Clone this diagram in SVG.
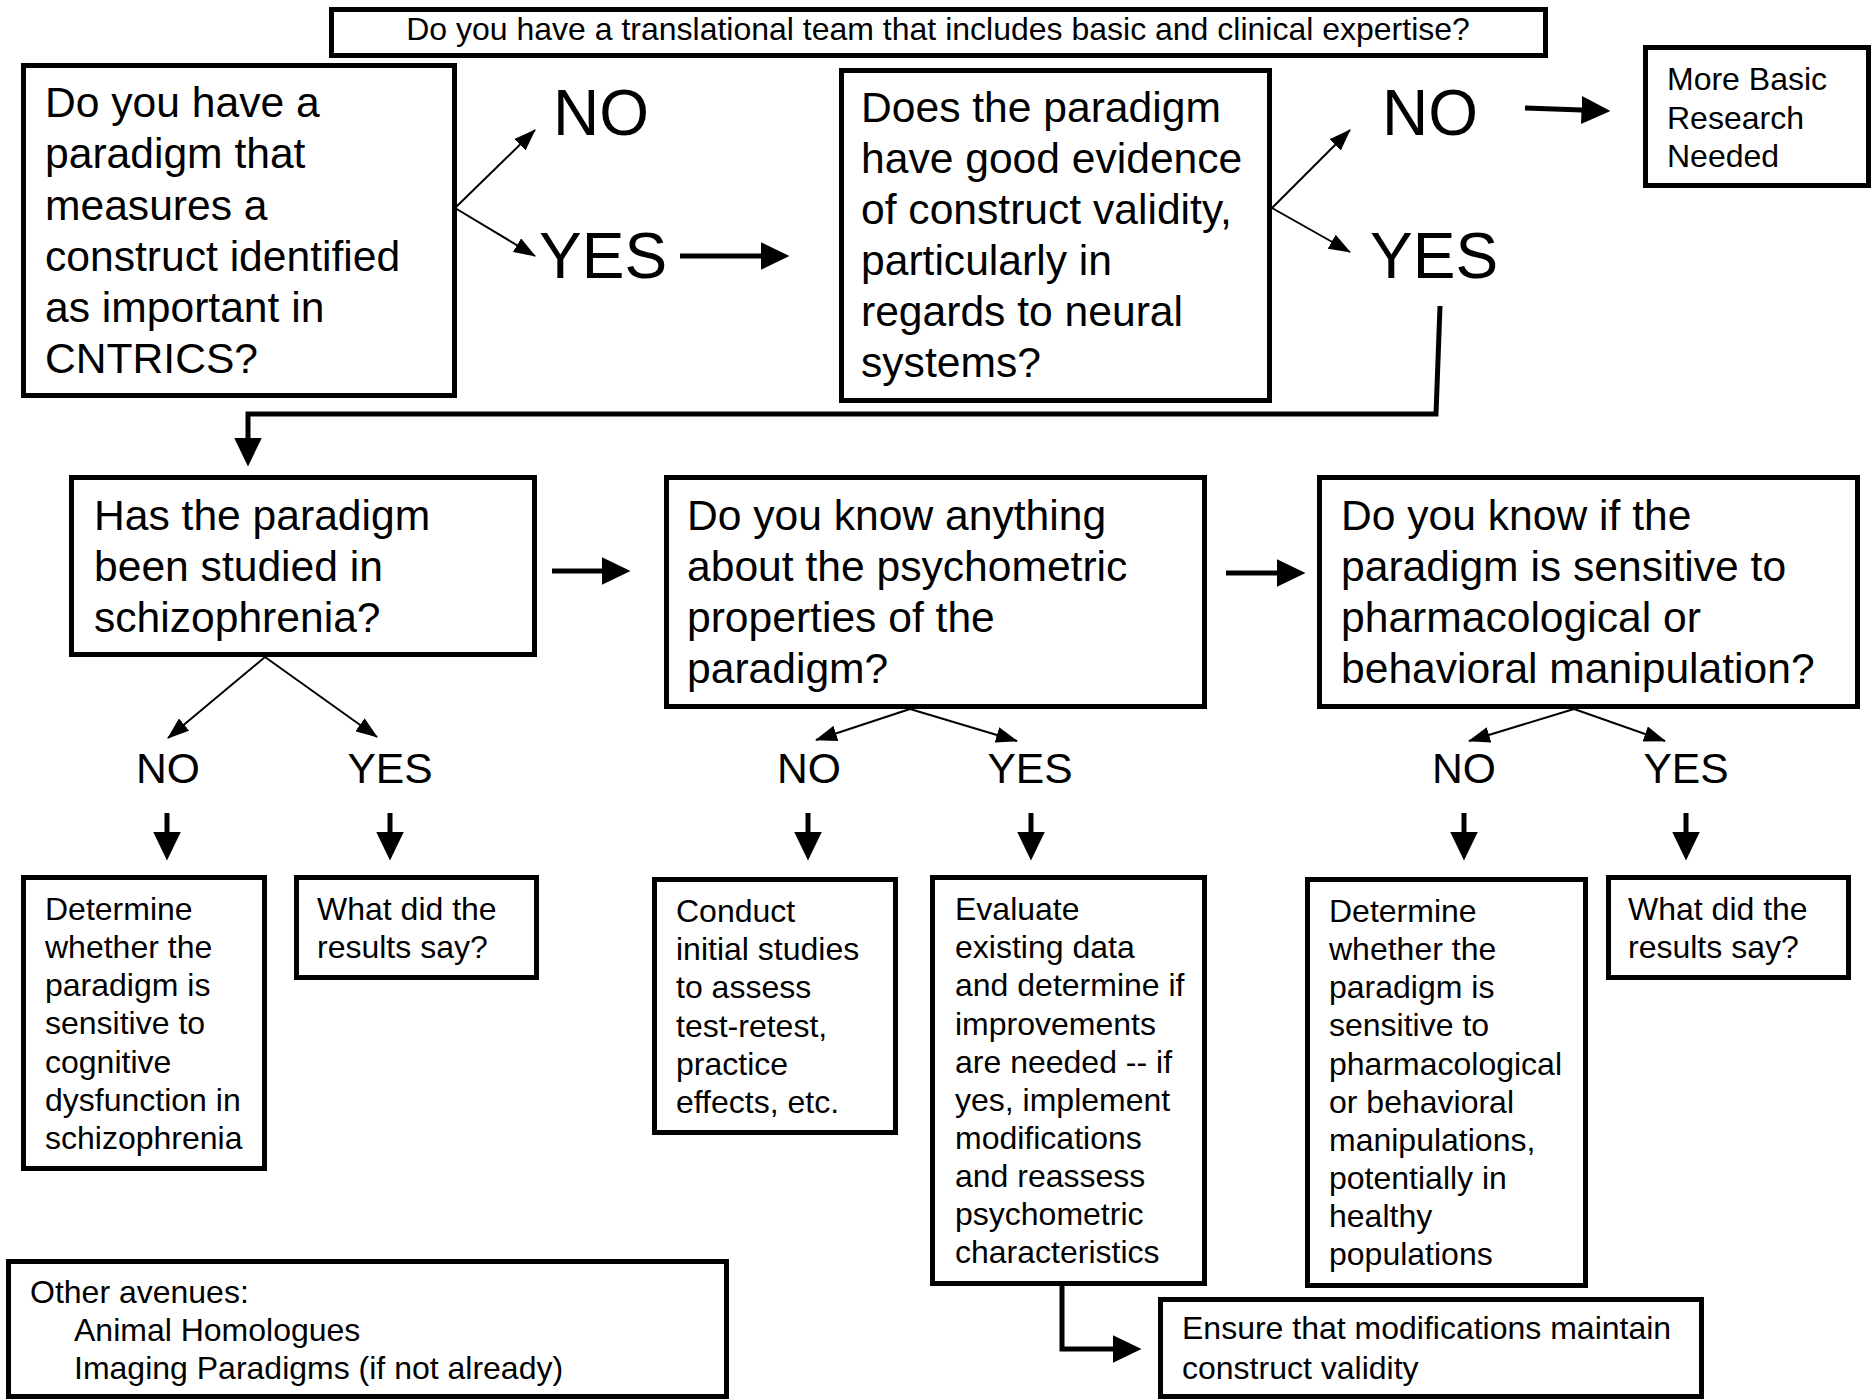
<svg xmlns="http://www.w3.org/2000/svg" width="1871" height="1399" viewBox="0 0 1871 1399">
<defs>
<style>
.box{fill:#fff;stroke:#000;stroke-width:5}
.t{font-family:"Liberation Sans",Arial,sans-serif;fill:#000}
.big{font-size:42.6px}
.sm{font-size:32px}
.huge{font-size:64px}
.thin{fill:none;stroke:#000;stroke-width:2}
.thick{fill:none;stroke:#000;stroke-width:5}
</style>
<marker id="ah" markerUnits="userSpaceOnUse" markerWidth="22" markerHeight="16" refX="21" refY="8" orient="auto" viewBox="0 0 22 16">
<path d="M0,0 L22,8 L0,16 z" fill="#000"/>
</marker>
<marker id="ahb" markerUnits="userSpaceOnUse" markerWidth="29" markerHeight="28" refX="0.5" refY="14" orient="auto" viewBox="0 0 29 28">
<path d="M0,0 L29,14 L0,28 z" fill="#000"/>
</marker>
</defs>
<rect width="1871" height="1399" fill="#fff"/>

<g id="team">
<rect class="box" x="331.5" y="9.5" width="1214" height="46"/>
<text class="t sm" x="938" y="40" text-anchor="middle">Do you have a translational team that includes basic and clinical expertise?</text>
</g>

<g id="q1">
<rect class="box" x="23.5" y="65.5" width="431" height="330"/>
<text class="t big"><tspan x="45" y="117">Do you have a</tspan><tspan x="45" y="168">paradigm that</tspan><tspan x="45" y="219.5">measures a</tspan><tspan x="45" y="271">construct identified</tspan><tspan x="45" y="322">as important in</tspan><tspan x="45" y="373">CNTRICS?</tspan></text>
</g>

<g id="q1-no"><text class="t huge" x="553" y="135">NO</text></g>
<g id="q1-yes"><text class="t huge" x="539" y="278">YES</text></g>

<g id="q2">
<rect class="box" x="841.5" y="70.5" width="428" height="330"/>
<text class="t big"><tspan x="861" y="122">Does the paradigm</tspan><tspan x="861" y="173">have good evidence</tspan><tspan x="861" y="224">of construct validity,</tspan><tspan x="861" y="275">particularly in</tspan><tspan x="861" y="326">regards to neural</tspan><tspan x="861" y="377">systems?</tspan></text>
</g>

<g id="q2-no"><text class="t huge" x="1382" y="135">NO</text></g>
<g id="q2-yes"><text class="t huge" x="1370" y="278">YES</text></g>

<g id="more-basic">
<rect class="box" x="1645.5" y="47.5" width="223" height="138"/>
<text class="t sm"><tspan x="1667" y="90">More Basic</tspan><tspan x="1667" y="129">Research</tspan><tspan x="1667" y="167">Needed</tspan></text>
</g>

<g id="q3">
<rect class="box" x="71.5" y="477.5" width="463" height="177"/>
<text class="t big"><tspan x="94" y="530">Has the paradigm</tspan><tspan x="94" y="581">been studied in</tspan><tspan x="94" y="632">schizophrenia?</tspan></text>
</g>

<g id="q4">
<rect class="box" x="666.5" y="477.5" width="538" height="229"/>
<text class="t big"><tspan x="687" y="530">Do you know anything</tspan><tspan x="687" y="581">about the psychometric</tspan><tspan x="687" y="632">properties of the</tspan><tspan x="687" y="683">paradigm?</tspan></text>
</g>

<g id="q5">
<rect class="box" x="1319.5" y="477.5" width="538" height="229"/>
<text class="t big"><tspan x="1341" y="530">Do you know if the</tspan><tspan x="1341" y="581">paradigm is sensitive to</tspan><tspan x="1341" y="632">pharmacological or</tspan><tspan x="1341" y="683">behavioral manipulation?</tspan></text>
</g>

<g id="q3-no"><text class="t big" x="168" y="783" text-anchor="middle">NO</text></g>
<g id="q3-yes"><text class="t big" x="390" y="783" text-anchor="middle">YES</text></g>
<g id="q4-no"><text class="t big" x="809" y="783" text-anchor="middle">NO</text></g>
<g id="q4-yes"><text class="t big" x="1030" y="783" text-anchor="middle">YES</text></g>
<g id="q5-no"><text class="t big" x="1464" y="783" text-anchor="middle">NO</text></g>
<g id="q5-yes"><text class="t big" x="1686" y="783" text-anchor="middle">YES</text></g>

<g id="determine-cog">
<rect class="box" x="23.5" y="877.5" width="241" height="291"/>
<text class="t sm"><tspan x="45" y="920">Determine</tspan><tspan x="45" y="958">whether the</tspan><tspan x="45" y="996">paradigm is</tspan><tspan x="45" y="1034">sensitive to</tspan><tspan x="45" y="1073">cognitive</tspan><tspan x="45" y="1111">dysfunction in</tspan><tspan x="45" y="1149">schizophrenia</tspan></text>
</g>

<g id="results1">
<rect class="box" x="296.5" y="877.5" width="240" height="100"/>
<text class="t sm"><tspan x="317" y="920">What did the</tspan><tspan x="317" y="958">results say?</tspan></text>
</g>

<g id="conduct">
<rect class="box" x="654.5" y="879.5" width="241" height="253"/>
<text class="t sm"><tspan x="676" y="922">Conduct</tspan><tspan x="676" y="960">initial studies</tspan><tspan x="676" y="998">to assess</tspan><tspan x="676" y="1037">test-retest,</tspan><tspan x="676" y="1075">practice</tspan><tspan x="676" y="1113">effects, etc.</tspan></text>
</g>

<g id="evaluate">
<rect class="box" x="932.5" y="877.5" width="272" height="406"/>
<text class="t sm"><tspan x="955" y="920">Evaluate</tspan><tspan x="955" y="958">existing data</tspan><tspan x="955" y="996">and determine if</tspan><tspan x="955" y="1035">improvements</tspan><tspan x="955" y="1073">are needed -- if</tspan><tspan x="955" y="1111">yes, implement</tspan><tspan x="955" y="1149">modifications</tspan><tspan x="955" y="1187">and reassess</tspan><tspan x="955" y="1225">psychometric</tspan><tspan x="955" y="1263">characteristics</tspan></text>
</g>

<g id="determine-pharm">
<rect class="box" x="1307.5" y="879.5" width="278" height="406"/>
<text class="t sm"><tspan x="1329" y="922">Determine</tspan><tspan x="1329" y="960">whether the</tspan><tspan x="1329" y="998">paradigm is</tspan><tspan x="1329" y="1036">sensitive to</tspan><tspan x="1329" y="1075">pharmacological</tspan><tspan x="1329" y="1113">or behavioral</tspan><tspan x="1329" y="1151">manipulations,</tspan><tspan x="1329" y="1189">potentially in</tspan><tspan x="1329" y="1227">healthy</tspan><tspan x="1329" y="1265">populations</tspan></text>
</g>

<g id="results2">
<rect class="box" x="1608.5" y="877.5" width="240" height="100"/>
<text class="t sm"><tspan x="1628" y="920">What did the</tspan><tspan x="1628" y="958">results say?</tspan></text>
</g>

<g id="ensure">
<rect class="box" x="1160.5" y="1299.5" width="541" height="97"/>
<text class="t sm"><tspan x="1182" y="1339">Ensure that modifications maintain</tspan><tspan x="1182" y="1379">construct validity</tspan></text>
</g>

<g id="other">
<rect class="box" x="8.5" y="1261.5" width="718" height="135"/>
<text class="t sm"><tspan x="30" y="1303">Other avenues:</tspan><tspan x="74" y="1341">Animal Homologues</tspan><tspan x="74" y="1379">Imaging Paradigms (if not already)</tspan></text>
</g>

<g id="connectors">
<line class="thin" x1="455" y1="208" x2="535" y2="130" marker-end="url(#ah)"/>
<line class="thin" x1="455" y1="208" x2="535" y2="256" marker-end="url(#ah)"/>
<line class="thin" x1="1272" y1="208" x2="1350" y2="130" marker-end="url(#ah)"/>
<line class="thin" x1="1272" y1="208" x2="1350" y2="252" marker-end="url(#ah)"/>
<line class="thin" x1="265" y1="657" x2="168" y2="738" marker-end="url(#ah)"/>
<line class="thin" x1="265" y1="657" x2="377" y2="737" marker-end="url(#ah)"/>
<line class="thin" x1="910" y1="709" x2="816" y2="740" marker-end="url(#ah)"/>
<line class="thin" x1="910" y1="709" x2="1017" y2="741" marker-end="url(#ah)"/>
<line class="thin" x1="1574" y1="709" x2="1469" y2="741" marker-end="url(#ah)"/>
<line class="thin" x1="1574" y1="709" x2="1665" y2="741" marker-end="url(#ah)"/>

<line class="thick" x1="680" y1="256" x2="761" y2="256" marker-end="url(#ahb)"/>
<line class="thick" x1="1525" y1="108" x2="1582" y2="110" marker-end="url(#ahb)"/>
<line class="thick" x1="552" y1="571" x2="602" y2="571" marker-end="url(#ahb)"/>
<line class="thick" x1="1226" y1="573" x2="1277" y2="573" marker-end="url(#ahb)"/>
<polyline class="thick" points="1440,306 1436,414 248,414 248,438" marker-end="url(#ahb)"/>

<line class="thick" x1="167" y1="813" x2="167" y2="832" marker-end="url(#ahb)"/>
<line class="thick" x1="390" y1="813" x2="390" y2="832" marker-end="url(#ahb)"/>
<line class="thick" x1="808" y1="813" x2="808" y2="832" marker-end="url(#ahb)"/>
<line class="thick" x1="1031" y1="813" x2="1031" y2="832" marker-end="url(#ahb)"/>
<line class="thick" x1="1464" y1="813" x2="1464" y2="832" marker-end="url(#ahb)"/>
<line class="thick" x1="1686" y1="813" x2="1686" y2="832" marker-end="url(#ahb)"/>

<polyline class="thick" points="1062,1286 1062,1349 1113,1349" marker-end="url(#ahb)"/>
</g>
</svg>
